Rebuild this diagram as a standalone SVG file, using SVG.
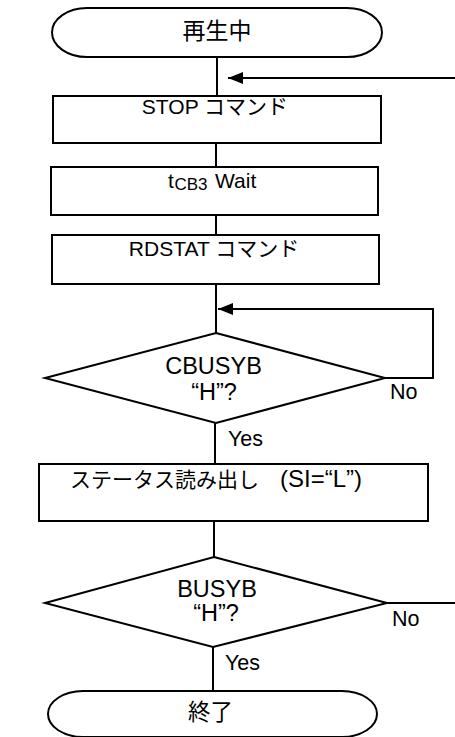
<svg xmlns="http://www.w3.org/2000/svg" width="455" height="737" viewBox="0 0 455 737">
<defs>
<style>
.s{fill:#fff;stroke:#000;stroke-width:2}
.c{fill:none;stroke:#000;stroke-width:2}
text{font-family:"Liberation Sans","Noto Sans CJK JP",Arial,sans-serif;fill:#000}
.m{text-anchor:middle}
.b{font-size:21px}
.d{font-size:23.5px}
.l{font-size:21.5px}
</style>
<marker id="ah" markerUnits="userSpaceOnUse" markerWidth="16" markerHeight="14" refX="15" refY="6" orient="auto">
<path d="M0,0 L15,6 L0,12 Z" fill="#000"/>
</marker>
</defs>
<rect width="455" height="737" fill="#fff"/>
<g id="connectors">
<line class="c" x1="217" y1="57" x2="217" y2="96"/>
<line class="c" x1="455" y1="78" x2="228" y2="78" marker-end="url(#ah)"/>
<line class="c" x1="216" y1="143" x2="216" y2="167"/>
<line class="c" x1="216" y1="215" x2="216" y2="235"/>
<line class="c" x1="216" y1="284" x2="216" y2="333"/>
<polyline class="c" points="385,378 433,378 433,309 218,309" marker-end="url(#ah)"/>
<line class="c" x1="215" y1="423" x2="215" y2="464"/>
<line class="c" x1="214" y1="521" x2="214" y2="557"/>
<line class="c" x1="387" y1="603" x2="455" y2="603"/>
<line class="c" x1="213" y1="647" x2="213" y2="691"/>
<text class="l" x="390" y="399">No</text>
<text class="l" x="228" y="446">Yes</text>
<text class="l" x="392" y="626">No</text>
<text class="l" x="225" y="670">Yes</text>
</g>
<g id="start">
<path class="s" d="M87,8 H347 A35,24.5 0 0 1 347,57 H87 A35,24.5 0 0 1 87,8 Z"/>
<text class="m" x="217" y="39" font-size="23">再生中</text>
</g>
<g id="stop">
<rect class="s" x="53" y="96" width="328" height="47"/>
<text class="m b" x="215" y="113.5">STOP コマンド</text>
</g>
<g id="wait">
<rect class="s" x="51" y="167" width="327" height="48"/>
<text class="b" x="168" y="188">t<tspan x="174.5" style="font-size:17px" dy="2">CB3</tspan><tspan x="215" dy="-2">Wait</tspan></text>
</g>
<g id="rdstat">
<rect class="s" x="52" y="235" width="327" height="49"/>
<text class="m b" x="214" y="256">RDSTAT コマンド</text>
</g>
<g id="cbusyb">
<polygon class="s" points="216,333 385,378 216,423 45,378"/>
<text class="m d" x="213.5" y="374">CBUSYB</text>
<text class="m d" x="214" y="400">“H”?</text>
</g>
<g id="status">
<rect class="s" x="39" y="464" width="389" height="57"/>
<text style="font-size:21px" x="70" y="487">ステータス読み出し<tspan x="280" style="font-size:24px">(SI=“L”)</tspan></text>
</g>
<g id="busyb">
<polygon class="s" points="214,557 387,603 213,647 45,603"/>
<text class="m d" x="217" y="597">BUSYB</text>
<text class="m d" x="216" y="621">“H”?</text>
</g>
<g id="end">
<path class="s" d="M83,691 H342 A35,23 0 0 1 342,737 H83 A35,23 0 0 1 83,691 Z"/>
<text class="m" x="210.5" y="720" font-size="22.5">終了</text>
</g>
</svg>
